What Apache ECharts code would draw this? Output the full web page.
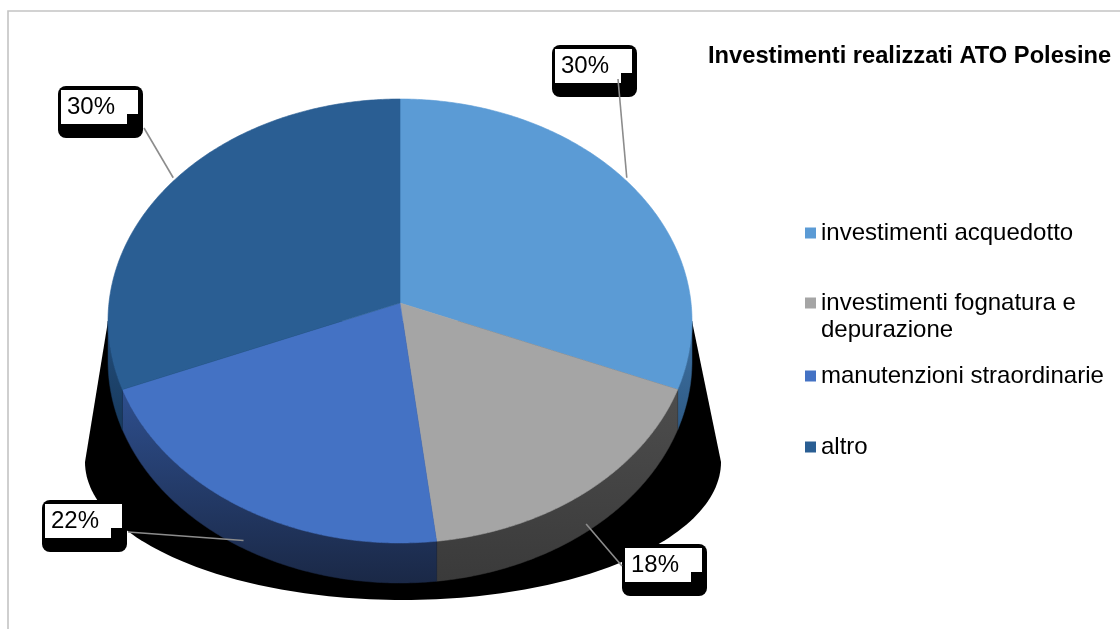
<!DOCTYPE html>
<html><head><meta charset="utf-8">
<script src="https://cdn.jsdelivr.net/npm/echarts@6/dist/echarts.min.js"></script>
<style>html,body{margin:0;padding:0;background:#fff}#c{width:1120px;height:629px}</style>
</head><body><div id="c"></div>
<script>
// ---- data ----
const categories = ['investimenti acquedotto', 'investimenti fognatura e depurazione', 'manutenzioni straordinarie', 'altro'];
const values = [30, 18, 22, 30];
const percentLabels = ['30%', '18%', '22%', '30%'];
const legendFirstLines = ['investimenti acquedotto', 'investimenti fognatura e', 'manutenzioni straordinarie', 'altro'];
const legendSecondLines = ['', 'depurazione', '', ''];
const titleText = 'Investimenti realizzati ATO Polesine';

// ---- styles / layout ----
const FONT = '"Liberation Sans", Arial, sans-serif';
const colors = ['#5B9BD5', '#A5A5A5', '#4472C4', '#2A5E93'];
const sideColors = [['#3F72A3', '#2E5A85'], ['#4D4D4D', '#3A3A3A'], ['#2E4F8E', '#1A2846'], ['#224D7A', '#183A5E']];
const geo = {cx: 400, cy: 321, rx: 292, ry: 222, depth: 40, apexX: 400, apexY: 303};
const shadowGeo = {cx: 403, cy: 462, rx: 318, ry: 138};
const labelBoxes = [{x: 552, y: 45}, {x: 622, y: 544}, {x: 42, y: 500}, {x: 58, y: 86}];
const leaderStart = [[66, 34], [0, 22], [86, 32], [86, 42]];
const legendCenters = [233, 303, 376, 447];
const legendLineHeight = 27;

const total = values.reduce((s, v) => s + v, 0);
const starts = [];
let acc = 0;
values.forEach(v => { starts.push(acc / total * 2 * Math.PI); acc += v; });

function edgePt(t, dy) {
  return [geo.cx + geo.rx * Math.sin(t), geo.cy - geo.ry * Math.cos(t) + (dy || 0)];
}

function shadowSeries() {
  return {
    type: 'custom', name: '_shadow', coordinateSystem: 'none', data: [0], silent: true,
    renderItem: function () {
      const pts = [];
      pts.push([geo.cx - geo.rx, geo.cy]);
      const n = 120;
      for (let k = 0; k <= n; k++) {
        const t = Math.PI * 1.5 - Math.PI * k / n; // left -> bottom -> right
        pts.push([shadowGeo.cx + shadowGeo.rx * Math.sin(t), shadowGeo.cy - shadowGeo.ry * Math.cos(t)]);
      }
      pts.push([geo.cx + geo.rx, geo.cy]);
      return {type: 'polygon', shape: {points: pts}, style: {fill: '#000'}};
    }
  };
}

function sliceSeries(i) {
  const a = starts[i], b = a + values[i] / total * 2 * Math.PI;
  return {
    type: 'custom', name: categories[i], coordinateSystem: 'none', data: [values[i]],
    itemStyle: {color: colors[i]},
    renderItem: function () {
      const children = [];
      // side face (front half only)
      const sa = Math.max(a, Math.PI / 2), sb = Math.min(b, Math.PI * 1.5);
      if (sb > sa) {
        const pts = [];
        const n = Math.max(2, Math.ceil((sb - sa) / 0.01));
        for (let k = 0; k <= n; k++) pts.push(edgePt(sa + (sb - sa) * k / n));
        for (let k = n; k >= 0; k--) pts.push(edgePt(sa + (sb - sa) * k / n, geo.depth));
        children.push({
          type: 'polygon', shape: {points: pts},
          style: {
            fill: new echarts.graphic.LinearGradient(0, 0, 0, 1, [
              {offset: 0, color: sideColors[i][0]}, {offset: 1, color: sideColors[i][1]}]),
            stroke: sideColors[i][1], lineWidth: 0.5
          }
        });
      }
      // top face
      const tp = [[geo.apexX, geo.apexY]];
      const n2 = Math.max(2, Math.ceil((b - a) / 0.01));
      for (let k = 0; k <= n2; k++) tp.push(edgePt(a + (b - a) * k / n2));
      children.push({type: 'polygon', shape: {points: tp}, style: {fill: colors[i], stroke: colors[i], lineWidth: 0.6}});
      // label box
      const bx = labelBoxes[i].x, by = labelBoxes[i].y;
      children.push({type: 'rect', shape: {x: bx, y: by, width: 85, height: 52, r: 8}, style: {fill: '#000'}, z2: 10});
      children.push({type: 'rect', shape: {x: bx + 3, y: by + 4, width: 66, height: 34}, style: {fill: '#fff'}, z2: 11});
      children.push({type: 'rect', shape: {x: bx + 69, y: by + 4, width: 11, height: 24}, style: {fill: '#fff'}, z2: 11});
      children.push({
        type: 'text', x: bx + 9, y: by + 21, z2: 12,
        style: {text: percentLabels[i], fontSize: 24, fontFamily: FONT, fill: '#000', align: 'left', verticalAlign: 'middle'}
      });
      // leader line
      const mid = (a + b) / 2;
      let end;
      if (Math.cos(mid) > 0) {
        end = [geo.apexX + 0.96 * geo.rx * Math.sin(mid), geo.apexY - 0.96 * geo.ry * Math.cos(mid)];
      } else {
        end = edgePt(mid, geo.depth * 0.8);
      }
      const st = [bx + leaderStart[i][0], by + leaderStart[i][1]];
      children.push({type: 'line', shape: {x1: st[0], y1: st[1], x2: end[0], y2: end[1]}, style: {stroke: '#8C8C8C', lineWidth: 1.6}, z2: 13});
      return {type: 'group', children: children};
    }
  };
}

const legends = categories.map((name, i) => ({
  data: [name], orient: 'vertical', left: 805, top: legendCenters[i] - legendLineHeight / 2,
  padding: 0, icon: 'rect', itemWidth: 11, itemHeight: 11, selectedMode: false,
  formatter: () => legendFirstLines[i],
  textStyle: {fontSize: 24, fontFamily: FONT, color: '#000', lineHeight: legendLineHeight}
}));

const extraLegendText = [];
legendSecondLines.forEach((t, i) => {
  if (t) {
    extraLegendText.push({
      type: 'text', left: 821, top: legendCenters[i] + legendLineHeight / 2, silent: true,
      style: {text: t, fontSize: 24, fontFamily: FONT, fill: '#000', lineHeight: legendLineHeight}
    });
  }
});

const chart = echarts.init(document.getElementById('c'), null, {renderer: 'canvas'});
chart.setOption({
  animation: false,
  backgroundColor: '#fff',
  title: {
    text: titleText, left: 708, top: 43, padding: 0,
    textStyle: {fontSize: 23.7, fontWeight: 'bold', fontFamily: FONT, color: '#000', lineHeight: 27}
  },
  legend: legends,
  graphic: [{
    type: 'polyline', silent: true,
    shape: {points: [[8, 700], [8, 11], [1200, 11]]},
    style: {stroke: '#C4C4C4', lineWidth: 1.6, fill: null}
  }].concat(extraLegendText),
  series: [shadowSeries()].concat(categories.map((c, i) => sliceSeries(i)))
});
</script>
</body></html>
